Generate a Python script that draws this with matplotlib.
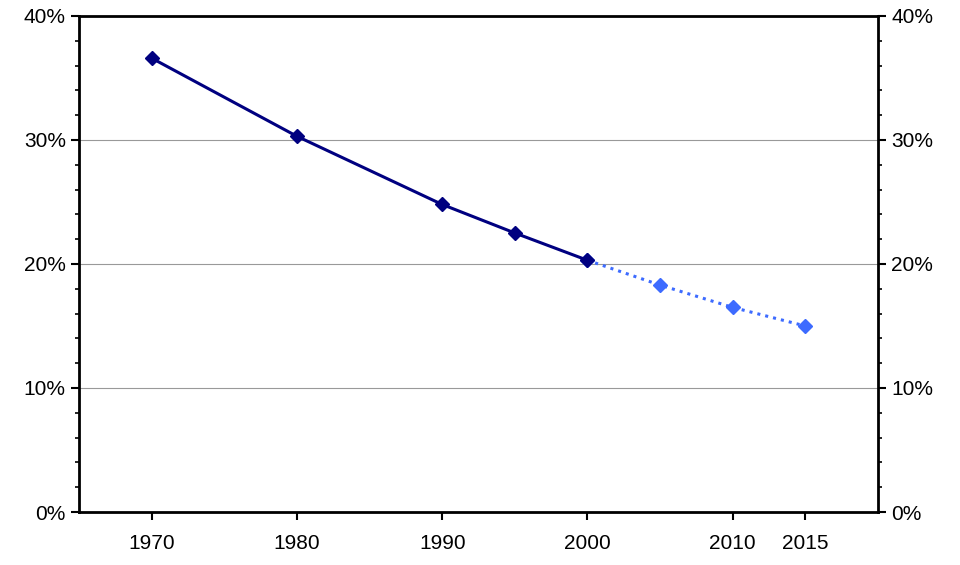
import matplotlib.pyplot as plt
from matplotlib.ticker import MultipleLocator, PercentFormatter

plt.rcParams['font.family'] = ['Liberation Sans', 'DejaVu Sans']

years_hist = [1970, 1980, 1990, 1995, 2000]
share_hist = [36.6, 30.3, 24.8, 22.5, 20.3]
years_proj = [2000, 2005, 2010, 2015]
share_proj = [20.3, 18.3, 16.5, 15.0]
xticks = [1970, 1980, 1990, 2000, 2010, 2015]

fig = plt.figure(figsize=(9.6, 5.65), dpi=100)
ax = fig.add_axes([0.0823, 0.0938, 0.8323, 0.8779])

ax.grid(axis='y', color='#999999', linewidth=0.8)
ax.set_axisbelow(True)
ax.plot(years_proj, share_proj, color='#3d6bff', linestyle=':', linewidth=2.2,
        marker='D', markersize=7, zorder=3)
ax.plot(years_hist, share_hist, color='#000080', linewidth=2.2,
        marker='D', markersize=7, zorder=4)

ax.set_xlim(1965, 2020)
ax.set_ylim(0, 40)
ax.set_xticks(xticks)
ax.yaxis.set_major_locator(MultipleLocator(10))
ax.yaxis.set_minor_locator(MultipleLocator(2))
ax.yaxis.set_major_formatter(PercentFormatter(decimals=0))
for s in ax.spines.values():
    s.set_linewidth(2)
ax.tick_params(axis='both', labelsize=15, width=1.5, length=6, direction='out')
ax.tick_params(axis='y', which='both', left=True, right=True, labelright=True)
ax.tick_params(axis='y', which='minor', length=3, width=1.2)
ax.tick_params(axis='x', pad=10)

fig.savefig('out.png', dpi=100)
